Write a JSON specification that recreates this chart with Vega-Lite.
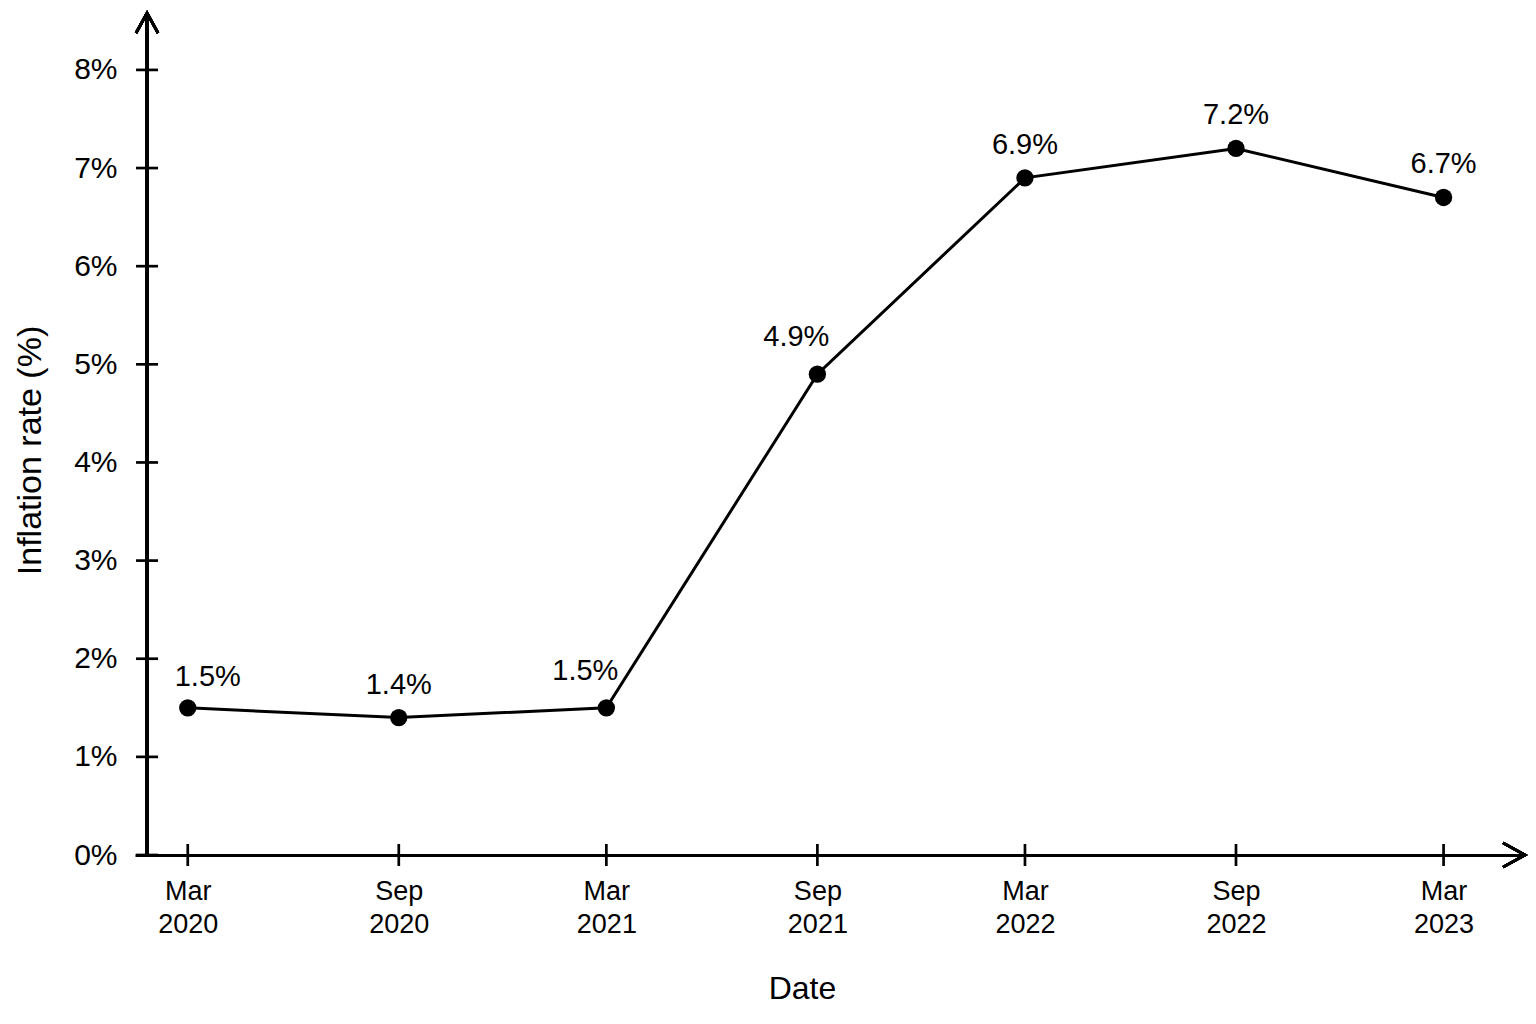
{
  "$schema": "https://vega.github.io/schema/vega-lite/v6.json",
  "autosize": {"type": "none"},
  "width": 1390,
  "height": 842,
  "padding": {"left": 135, "top": 13, "right": 11, "bottom": 169},
  "background": "white",
  "config": {
    "view": {"stroke": null},
    "font": "Liberation Sans"
  },
  "datasets": {
    "inflation": [
      {"date": "2020-03-01", "value": 1.5, "label": "1.5%"},
      {"date": "2020-09-01", "value": 1.4, "label": "1.4%"},
      {"date": "2021-03-01", "value": 1.5, "label": "1.5%"},
      {"date": "2021-09-01", "value": 4.9, "label": "4.9%"},
      {"date": "2022-03-01", "value": 6.9, "label": "6.9%"},
      {"date": "2022-09-01", "value": 7.2, "label": "7.2%"},
      {"date": "2023-03-01", "value": 6.7, "label": "6.7%"}
    ],
    "yticks": [
      {"v": 0}, {"v": 1}, {"v": 2}, {"v": 3}, {"v": 4}, {"v": 5}, {"v": 6}, {"v": 7}, {"v": 8}
    ]
  },
  "encoding": {
    "x": {
      "type": "temporal",
      "scale": {
        "type": "utc",
        "domain": [
          {"year": 2020, "month": 1, "date": 15, "utc": true},
          {"year": 2023, "month": 5, "date": 11, "utc": true}
        ]
      },
      "axis": {
        "orient": "bottom",
        "values": [
          {"year": 2020, "month": 3, "date": 1, "utc": true},
          {"year": 2020, "month": 9, "date": 1, "utc": true},
          {"year": 2021, "month": 3, "date": 1, "utc": true},
          {"year": 2021, "month": 9, "date": 1, "utc": true},
          {"year": 2022, "month": 3, "date": 1, "utc": true},
          {"year": 2022, "month": 9, "date": 1, "utc": true},
          {"year": 2023, "month": 3, "date": 1, "utc": true}
        ],
        "labelExpr": "[utcFormat(datum.value, '%b'), utcFormat(datum.value, '%Y')]",
        "labelFont": "Liberation Sans",
        "labelFontSize": 27,
        "labelLineHeight": 33,
        "labelBaseline": "top",
        "labelPadding": 23,
        "labelColor": "black",
        "labelFlush": false,
        "labelOverlap": false,
        "labelBound": false,
        "ticks": false,
        "grid": false,
        "domain": true,
        "domainColor": "black",
        "domainWidth": 3,
        "title": "Date",
        "titleFont": "Liberation Sans",
        "titleFontSize": 32,
        "titleFontWeight": "normal",
        "titleColor": "black",
        "titleX": 667,
        "titleY": 143,
        "titleBaseline": "alphabetic",
        "titleAlign": "center"
      }
    },
    "y": {
      "type": "quantitative",
      "scale": {"domain": [0, 8.58], "nice": false, "zero": true},
      "axis": {
        "orient": "left",
        "values": [0, 1, 2, 3, 4, 5, 6, 7, 8],
        "labelExpr": "datum.value + '%'",
        "labelFont": "Liberation Sans",
        "labelFontSize": 30,
        "labelColor": "black",
        "labelPadding": 18,
        "labelFlush": false,
        "labelOverlap": false,
        "labelBound": false,
        "ticks": false,
        "domain": false,
        "grid": false,
        "title": "Inflation rate (%)",
        "titleFont": "Liberation Sans",
        "titleFontSize": 34,
        "titleFontWeight": "normal",
        "titleColor": "black",
        "titleX": -95,
        "titleY": 437,
        "titleAngle": -90,
        "titleBaseline": "alphabetic",
        "titleAlign": "center"
      }
    }
  },
  "layer": [
    {
      "data": {"name": "inflation"},
      "mark": {"type": "rule", "color": "black", "strokeWidth": 3},
      "encoding": {
        "x": {"datum": {"year": 2020, "month": 1, "date": 25, "hours": 12, "utc": true}, "type": "temporal"},
        "y": {"datum": 0, "type": "quantitative"},
        "y2": {"datum": 8.58}
      }
    },
    {
      "data": {"name": "yticks"},
      "mark": {"type": "tick", "orient": "horizontal", "color": "black", "size": 22, "thickness": 2.7, "opacity": 1},
      "encoding": {
        "x": {"datum": {"year": 2020, "month": 1, "date": 25, "hours": 12, "utc": true}, "type": "temporal"},
        "y": {"field": "v", "type": "quantitative"}
      }
    },
    {
      "data": {"name": "inflation"},
      "mark": {"type": "tick", "orient": "vertical", "color": "black", "size": 22, "thickness": 2.7, "opacity": 1},
      "encoding": {
        "x": {"field": "date", "type": "temporal"},
        "y": {"datum": 0, "type": "quantitative"}
      }
    },
    {
      "data": {"name": "inflation"},
      "mark": {"type": "line", "color": "black", "strokeWidth": 3},
      "encoding": {
        "x": {"field": "date", "type": "temporal"},
        "y": {"field": "value", "type": "quantitative"}
      }
    },
    {
      "data": {"name": "inflation"},
      "mark": {"type": "point", "shape": "circle", "filled": true, "color": "black", "size": 300, "opacity": 1},
      "encoding": {
        "x": {"field": "date", "type": "temporal"},
        "y": {"field": "value", "type": "quantitative"}
      }
    },
    {
      "data": {"name": "inflation"},
      "transform": [{"filter": "utcyear(datum.date) >= 2022 || (utcyear(datum.date) == 2020 && utcmonth(datum.date) == 8)"}],
      "mark": {"type": "text", "color": "black", "font": "Liberation Sans", "fontSize": 29, "baseline": "alphabetic", "align": "center", "dy": -24},
      "encoding": {
        "x": {"field": "date", "type": "temporal"},
        "y": {"field": "value", "type": "quantitative"},
        "text": {"field": "label"}
      }
    },
    {
      "data": {"name": "inflation"},
      "transform": [{"filter": "utcyear(datum.date) == 2020 && utcmonth(datum.date) == 2"}],
      "mark": {"type": "text", "color": "black", "font": "Liberation Sans", "fontSize": 29, "baseline": "alphabetic", "align": "center", "dx": 20, "dy": -22},
      "encoding": {
        "x": {"field": "date", "type": "temporal"},
        "y": {"field": "value", "type": "quantitative"},
        "text": {"field": "label"}
      }
    },
    {
      "data": {"name": "inflation"},
      "transform": [{"filter": "utcyear(datum.date) == 2021"}],
      "mark": {"type": "text", "color": "black", "font": "Liberation Sans", "fontSize": 29, "baseline": "alphabetic", "align": "right", "dx": 12, "dy": -28},
      "encoding": {
        "x": {"field": "date", "type": "temporal"},
        "y": {"field": "value", "type": "quantitative"},
        "text": {"field": "label"}
      }
    },
    {
      "data": {"name": "inflation"},
      "mark": {"type": "point", "shape": "M-0.55,1L0,0L0.55,1", "filled": false, "color": "black", "strokeWidth": 2.7, "size": 1600, "opacity": 1},
      "encoding": {
        "x": {"datum": {"year": 2020, "month": 1, "date": 25, "hours": 12, "utc": true}, "type": "temporal"},
        "y": {"datum": 8.58, "type": "quantitative"}
      }
    },
    {
      "data": {"name": "inflation"},
      "mark": {"type": "point", "shape": "M-1,-0.55L0,0L-1,0.55", "filled": false, "color": "black", "strokeWidth": 2.7, "size": 1936, "opacity": 1},
      "encoding": {
        "x": {"datum": {"year": 2023, "month": 5, "date": 11, "utc": true}, "type": "temporal"},
        "y": {"datum": 0, "type": "quantitative"}
      }
    }
  ]
}
